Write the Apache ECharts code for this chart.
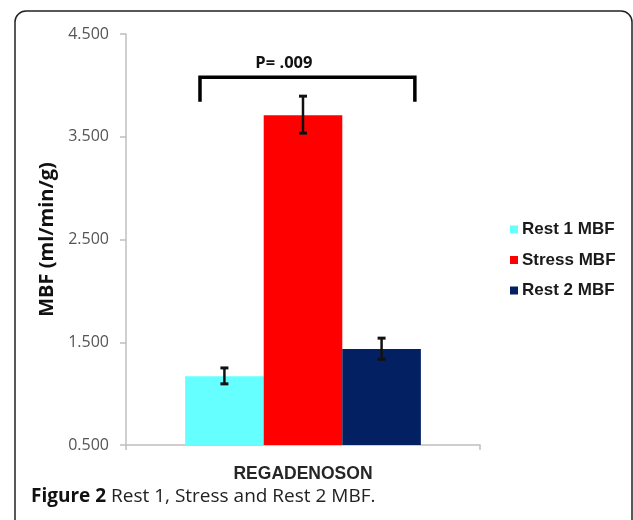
<!DOCTYPE html>
<html>
<head>
<meta charset="utf-8">
<script src="https://cdn.jsdelivr.net/npm/echarts@6/dist/echarts.min.js"></script>
<style>
html,body{margin:0;padding:0;background:#fff;}
#chart{width:633px;height:520px;}
</style>
</head>
<body>
<div id="chart"></div>
<script>
// ---- data ----
const categories = ['REGADENOSON'];
const seriesNames = ['Rest 1 MBF', 'Stress MBF', 'Rest 2 MBF'];
const meanValues = [1.17, 3.71, 1.435];
const errLow = [1.095, 3.535, 1.335];
const errHigh = [1.25, 3.895, 1.54];
const yTicks = [0.5, 1.5, 2.5, 3.5, 4.5];
const bracketLevels = [4.08, 3.84];   // bracket top, leg bottom
const pText = 'P= .009';
const pTextLevel = 4.215;
const captionBold = 'Figure 2';
const captionRest = ' Rest 1, Stress and Rest 2 MBF.';

const colors = ['#66ffff', '#ff0000', '#032063'];
const barFrac = 0.222;

const chart = echarts.init(document.getElementById('chart'), null, {renderer: 'canvas'});

const series = [];
seriesNames.forEach((n, i) => {
  series.push({
    name: n, type: 'bar', data: [meanValues[i]],
    barWidth: (barFrac * 100) + '%', barGap: '0%',
    itemStyle: {color: colors[i]}
  });
});
seriesNames.forEach((n, i) => {
  series.push({
    type: 'custom', silent: true, z: 5,
    data: [[0, errLow[i], errHigh[i]]],
    renderItem: function (params, api) {
      const band = api.size([1, 0])[0];
      const off = (i - 1) * barFrac * band;
      const p1 = api.coord([api.value(0), api.value(1)]);
      const p2 = api.coord([api.value(0), api.value(2)]);
      const x = p1[0] + off;
      const cap = 4;
      const st = {stroke: '#111', lineWidth: 2.5};
      return {type: 'group', children: [
        {type: 'line', shape: {x1: x, y1: p1[1], x2: x, y2: p2[1]}, style: st},
        {type: 'line', shape: {x1: x - cap, y1: p1[1], x2: x + cap, y2: p1[1]}, style: {stroke: '#111', lineWidth: 3}},
        {type: 'line', shape: {x1: x - cap, y1: p2[1], x2: x + cap, y2: p2[1]}, style: {stroke: '#111', lineWidth: 3}}
      ]};
    }
  });
});
series.push({
  type: 'custom', silent: true, z: 6,
  data: [[0, bracketLevels[0], bracketLevels[1], pTextLevel]],
  renderItem: function (params, api) {
    const band = api.size([1, 0])[0];
    const top = api.coord([api.value(0), api.value(1)]);
    const bot = api.coord([api.value(0), api.value(2)]);
    const tp = api.coord([api.value(0), api.value(3)]);
    const xl = top[0] - 0.291 * band;
    const xr = top[0] + 0.316 * band;
    return {type: 'group', children: [
      {type: 'polyline', shape: {points: [[xl, bot[1]], [xl, top[1]], [xr, top[1]], [xr, bot[1]]]},
       style: {stroke: '#000', lineWidth: 3.5, fill: null}},
      {type: 'text', x: top[0] - 0.054 * band, y: tp[1],
       style: {text: pText, fill: '#111', font: 'bold 16.5px "Open Sans"', align: 'center', verticalAlign: 'middle'}}
    ]};
  }
});

const option = {
  animation: false,
  backgroundColor: '#fff',
  grid: {left: 126, right: 153, top: 34, bottom: 75, containLabel: false},
  legend: {
    data: seriesNames, orient: 'vertical', left: 505, top: 216,
    icon: 'rect', itemWidth: 8, itemHeight: 8, itemGap: 13.5,
    textStyle: {fontFamily: '"Liberation Sans", Arial', fontWeight: 'bold', fontSize: 17, color: '#1a1a1a', padding: [0, 0, 0, -1]}
  },
  xAxis: {
    type: 'category', data: categories,
    axisLine: {lineStyle: {color: '#bfbfbf', width: 1.5}},
    axisTick: {show: true, length: 5, lineStyle: {color: '#bfbfbf', width: 1.5}},
    axisLabel: {margin: 20, fontFamily: '"Liberation Sans", Arial', fontWeight: 'bold', fontSize: 17.5, color: '#262626'}
  },
  yAxis: {
    type: 'value', min: yTicks[0], max: yTicks[yTicks.length - 1], interval: 1,
    name: 'MBF (ml/min/g)', nameLocation: 'middle', nameRotate: 90, nameGap: 62,
    nameTextStyle: {fontFamily: '"Open Sans"', fontWeight: 'bold', fontSize: 20, color: '#111'},
    axisLine: {show: true, lineStyle: {color: '#bfbfbf', width: 1.5}},
    axisTick: {show: true, length: 6, lineStyle: {color: '#bfbfbf', width: 1.5}},
    splitLine: {show: false},
    axisLabel: {margin: 17, fontFamily: '"Open Sans"', fontWeight: 500, fontSize: 16, color: '#555555',
      formatter: v => v.toFixed(3)}
  },
  graphic: [
    {type: 'rect', shape: {x: 15, y: 11, width: 617, height: 600, r: 11},
     style: {fill: null, stroke: '#222', lineWidth: 1.5}, silent: true},
    {type: 'text', left: 31, top: 487,
     style: {rich: {b: {font: 'bold 19px "Open Sans"', fill: '#111'}, r: {font: '19px "Open Sans"', fill: '#222'}},
       text: '{b|' + captionBold + '}{r|' + captionRest + '}'}}
  ],
  series: series
};
chart.setOption(option);
</script>
</body>
</html>
